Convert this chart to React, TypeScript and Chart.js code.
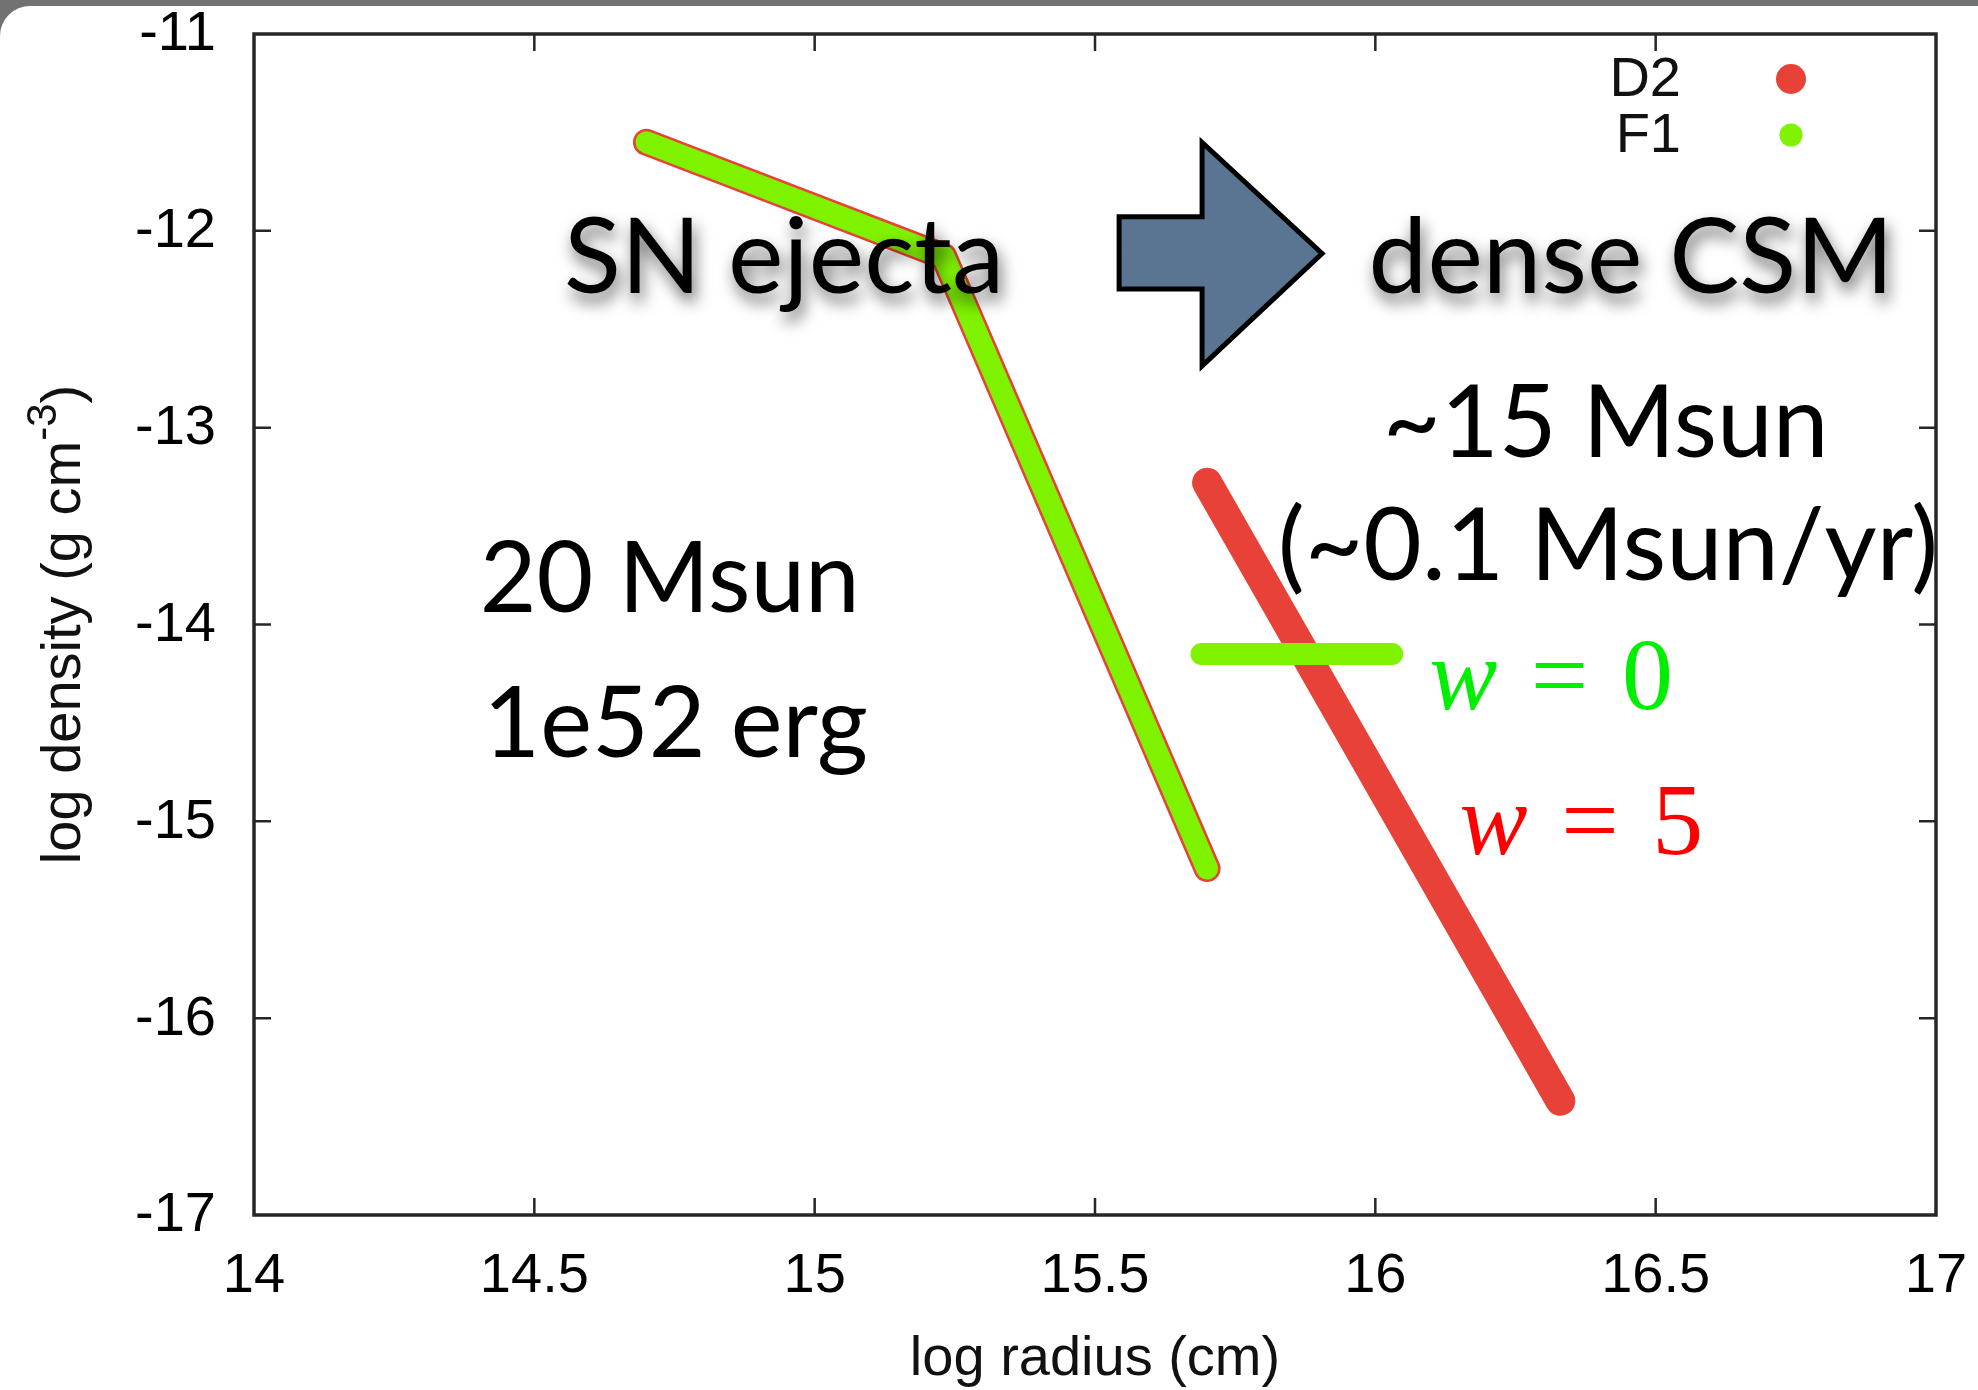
import React, { useEffect, useRef } from 'react';
import { Chart, registerables } from 'chart.js';

Chart.register(...registerables);

// ---- data ----
const xTickValues = [14, 14.5, 15, 15.5, 16, 16.5, 17];
const yTickValues = [-11, -12, -13, -14, -15, -16, -17];
const seriesNames = ['D2', 'F1'];
const ejectaRadius = [14.7, 15.23, 15.7];
const ejectaDensity = [-11.55, -12.13, -15.24];
const csmD2Radius = [15.7, 16.33];
const csmD2Density = [-13.28, -16.42];
const csmF1Radius = [15.69, 16.03];
const csmF1Density = [-14.15, -14.15];

// ---- styles ----
const RED = 'rgb(232,65,55)';
const GREEN = 'rgb(127,242,0)';
const AXIS_FONT = '"Liberation Sans", Arial, sans-serif';
const ANNOT_FONT = 'Lato, "Open Sans", sans-serif';
const MATH_FONT = '"Liberation Serif", "DejaVu Serif", serif';

const W = 1978;
const H = 1390;
const AREA = { left: 254, top: 34, right: 1936, bottom: 1215 };

const pts = (xs: number[], ys: number[]) => xs.map((x, i) => ({ x, y: ys[i] }));

// annotation placements in data coordinates
const textNotes = [
  { text: 'SN ejecta', x: 14.553, y: -12.314, size: 105, align: 'left', shadow: true },
  { text: 'dense CSM', x: 15.988, y: -12.314, size: 105, align: 'left', shadow: true },
  { text: '~15 Msun', x: 16.411, y: -13.147, size: 100, align: 'center', shadow: false },
  { text: '(~0.1 Msun/yr)', x: 16.415, y: -13.776, size: 101, align: 'center', shadow: false },
  { text: '20 Msun', x: 14.4025, y: -13.936, size: 98, align: 'left', shadow: false },
  { text: '1e52 erg', x: 14.409, y: -14.673, size: 98, align: 'left', shadow: false },
];
const mathNotes = [
  { sym: 'w', val: '0', x: 16.096, y: -14.429, color: '#00ee00' },
  { sym: 'w', val: '5', x: 16.15, y: -15.167, color: '#ff0000' },
];
const arrowShape = [
  [15.543, -11.929],
  [15.691, -11.929],
  [15.691, -11.551],
  [15.905, -12.115],
  [15.691, -12.686],
  [15.691, -12.295],
  [15.543, -12.295],
];

const framePlugin = {
  id: 'frame',
  beforeDatasetsDraw(chart: any) {
    const { ctx, chartArea: a, scales } = chart;
    const x = scales.x;
    const y = scales.y;
    ctx.save();
    ctx.strokeStyle = '#262626';
    ctx.lineWidth = 2.5;
    const tl = 17;
    ctx.beginPath();
    for (const v of xTickValues) {
      const px = x.getPixelForValue(v);
      if (Math.abs(px - a.left) < 2 || Math.abs(px - a.right) < 2) continue;
      ctx.moveTo(px, a.bottom);
      ctx.lineTo(px, a.bottom - tl);
      ctx.moveTo(px, a.top);
      ctx.lineTo(px, a.top + tl);
    }
    for (const v of yTickValues) {
      const py = y.getPixelForValue(v);
      if (Math.abs(py - a.top) < 2 || Math.abs(py - a.bottom) < 2) continue;
      ctx.moveTo(a.left, py);
      ctx.lineTo(a.left + tl, py);
      ctx.moveTo(a.right, py);
      ctx.lineTo(a.right - tl, py);
    }
    ctx.stroke();
    ctx.lineWidth = 3.5;
    ctx.strokeRect(a.left, a.top, a.right - a.left, a.bottom - a.top);

    // tick labels
    ctx.fillStyle = '#000';
    ctx.font = `56px ${AXIS_FONT}`;
    ctx.textBaseline = 'middle';
    ctx.textAlign = 'center';
    for (const v of xTickValues) {
      ctx.fillText(String(v), x.getPixelForValue(v), a.bottom + 62);
    }
    ctx.textAlign = 'right';
    for (const v of yTickValues) {
      ctx.fillText(String(v), a.left - 38, y.getPixelForValue(v) + 1);
    }

    // axis titles
    ctx.fillStyle = '#111';
    ctx.font = `56px ${AXIS_FONT}`;
    ctx.textAlign = 'center';
    ctx.textBaseline = 'alphabetic';
    ctx.fillText('log radius (cm)', (a.left + a.right) / 2, 1375);

    ctx.translate(80, (a.top + a.bottom) / 2);
    ctx.rotate(-Math.PI / 2);
    const p1 = 'log density (g cm';
    const sup = '-3';
    const p2 = ')';
    ctx.font = `56px ${AXIS_FONT}`;
    const w1 = ctx.measureText(p1).width;
    const w3 = ctx.measureText(p2).width;
    ctx.font = `42px ${AXIS_FONT}`;
    const w2 = ctx.measureText(sup).width;
    let sx = -(w1 + w2 + w3) / 2;
    ctx.textAlign = 'left';
    ctx.font = `56px ${AXIS_FONT}`;
    ctx.fillText(p1, sx, 0);
    sx += w1;
    ctx.font = `42px ${AXIS_FONT}`;
    ctx.fillText(sup, sx, -24);
    sx += w2;
    ctx.font = `56px ${AXIS_FONT}`;
    ctx.fillText(p2, sx, 0);
    ctx.restore();
  },
  afterDatasetsDraw(chart: any) {
    const { ctx, scales } = chart;
    const x = scales.x;
    const y = scales.y;
    ctx.save();

    // legend
    ctx.font = `56px ${AXIS_FONT}`;
    ctx.textAlign = 'right';
    ctx.textBaseline = 'middle';
    const legendColors = [RED, GREEN];
    const legendRadius = [15, 11.5];
    seriesNames.forEach((name, i) => {
      const ly = 79 + i * 56;
      ctx.fillStyle = '#111';
      ctx.fillText(name, 1681, ly + 2);
      ctx.fillStyle = legendColors[i];
      ctx.beginPath();
      ctx.arc(1791, ly, legendRadius[i], 0, Math.PI * 2);
      ctx.fill();
    });

    // arrow
    ctx.beginPath();
    arrowShape.forEach(([vx, vy], i) => {
      const px = x.getPixelForValue(vx);
      const py = y.getPixelForValue(vy);
      if (i === 0) ctx.moveTo(px, py);
      else ctx.lineTo(px, py);
    });
    ctx.closePath();
    ctx.fillStyle = '#5a7591';
    ctx.fill();
    ctx.lineWidth = 5;
    ctx.lineJoin = 'miter';
    ctx.strokeStyle = '#000';
    ctx.stroke();

    // text annotations
    ctx.textBaseline = 'alphabetic';
    for (const n of textNotes) {
      ctx.save();
      ctx.font = `${n.size}px ${ANNOT_FONT}`;
      ctx.textAlign = n.align as CanvasTextAlign;
      if (n.shadow) {
        ctx.shadowColor = 'rgba(0,0,0,0.6)';
        ctx.shadowBlur = 16;
        ctx.shadowOffsetX = 3;
        ctx.shadowOffsetY = 9;
      }
      ctx.fillStyle = '#000';
      ctx.fillText(n.text, x.getPixelForValue(n.x), y.getPixelForValue(n.y));
      ctx.restore();
    }

    // math annotations
    for (const m of mathNotes) {
      const size = 102;
      let px = x.getPixelForValue(m.x);
      const py = y.getPixelForValue(m.y);
      ctx.fillStyle = m.color;
      ctx.textAlign = 'left';
      ctx.font = `italic ${size}px ${MATH_FONT}`;
      ctx.fillText(m.sym, px, py);
      px += ctx.measureText(m.sym).width + size * 0.33;
      ctx.font = `${size}px ${MATH_FONT}`;
      ctx.fillText('=', px, py);
      px += ctx.measureText('=').width + size * 0.33;
      ctx.fillText(m.val, px, py);
    }
    ctx.restore();
  },
};

export default function App() {
  const canvasRef = useRef<HTMLCanvasElement | null>(null);

  useEffect(() => {
    document.body.style.margin = '0';
    let chart: Chart | null = null;
    let cancelled = false;
    const fontLoads = [
      `56px "Liberation Sans"`,
      `105px Lato`,
      `italic 102px "Liberation Serif"`,
      `102px "Liberation Serif"`,
    ].map((f) => (document as any).fonts?.load(f).catch(() => null));

    Promise.all(fontLoads).then(() => {
      if (cancelled || !canvasRef.current) return;
      const lineBase = {
        type: 'line' as const,
        showLine: true,
        pointRadius: 0,
        pointHoverRadius: 0,
        borderCapStyle: 'round' as const,
        borderJoinStyle: 'round' as const,
        fill: false,
        tension: 0,
      };
      chart = new Chart(canvasRef.current, {
        type: 'line',
        data: {
          datasets: [
            { ...lineBase, label: seriesNames[1] + ' ejecta', data: pts(ejectaRadius, ejectaDensity), borderColor: GREEN, borderWidth: 22, order: 0 },
            { ...lineBase, label: seriesNames[1] + ' CSM', data: pts(csmF1Radius, csmF1Density), borderColor: GREEN, borderWidth: 22, order: 0 },
            { ...lineBase, label: seriesNames[0] + ' ejecta', data: pts(ejectaRadius, ejectaDensity), borderColor: RED, borderWidth: 27, order: 1 },
            { ...lineBase, label: seriesNames[0] + ' CSM', data: pts(csmD2Radius, csmD2Density), borderColor: RED, borderWidth: 30, order: 1 },
          ],
        },
        options: {
          responsive: false,
          animation: false,
          devicePixelRatio: 1,
          layout: { padding: { left: 0, top: AREA.top, right: W - AREA.right, bottom: 0 } },
          plugins: { legend: { display: false }, tooltip: { enabled: false } },
          events: [],
          scales: {
            x: {
              type: 'linear',
              min: 14,
              max: 17,
              grid: { display: false, drawTicks: false },
              border: { display: false },
              ticks: { display: false },
              afterFit: (s: any) => {
                s.height = H - AREA.bottom;
              },
            },
            y: {
              type: 'linear',
              min: -17,
              max: -11,
              grid: { display: false, drawTicks: false },
              border: { display: false },
              ticks: { display: false },
              afterFit: (s: any) => {
                s.width = AREA.left;
              },
            },
          },
        },
        plugins: [framePlugin],
      });
    });

    return () => {
      cancelled = true;
      if (chart) chart.destroy();
    };
  }, []);

  return (
    <div style={{ position: 'relative', width: W, height: H, background: '#727272', overflow: 'hidden' }}>
      <div
        style={{
          position: 'absolute',
          top: 6,
          left: 0,
          right: 0,
          bottom: 0,
          background: '#fff',
          borderTopLeftRadius: 30,
        }}
      />
      <canvas
        ref={canvasRef}
        width={W}
        height={H}
        style={{ position: 'absolute', top: 0, left: 0, width: W, height: H }}
      />
    </div>
  );
}
